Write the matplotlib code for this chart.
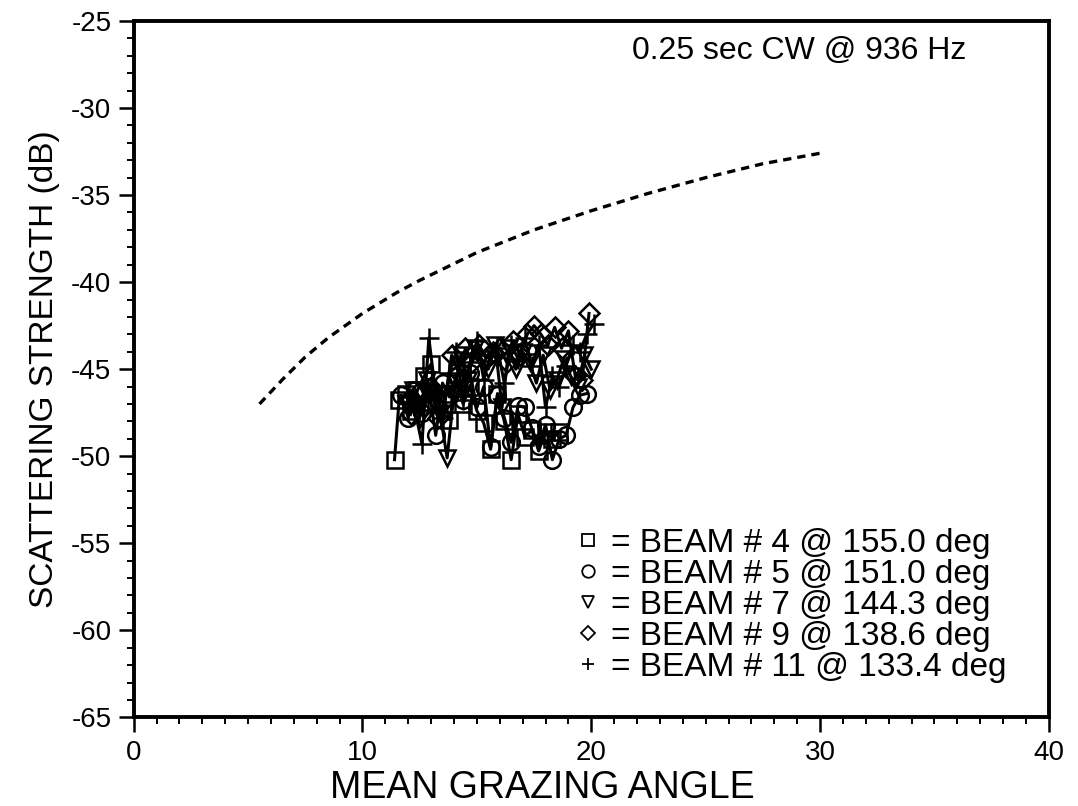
import matplotlib
matplotlib.use("Agg")
import matplotlib.pyplot as plt
from matplotlib.lines import Line2D
from matplotlib.ticker import MultipleLocator

plt.rcParams['font.family'] = ['Liberation Sans', 'DejaVu Sans']
plt.rcParams['axes.unicode_minus'] = False

# Model curve (dashed)
model_x = [5.5, 6.5, 7.5, 8.5, 10.0, 11.5, 12.5, 15.0, 17.5, 20.0, 22.5, 25.0, 27.5, 30.0]
model_y = [-47.0, -45.6, -44.3, -43.2, -41.8, -40.6, -39.9, -38.3, -37.0, -35.9, -34.9, -34.0, -33.2, -32.6]

# Beam 4 (squares)
b4_x = [11.4, 11.6, 11.9, 12.1, 12.4, 12.7, 13.0, 13.2, 13.5, 13.8, 14.1, 14.4, 14.7, 15.0,
        15.3, 15.6, 15.9, 16.2, 16.5, 16.8, 17.1, 17.4, 17.7, 18.0, 18.3, 18.6]
b4_y = [-50.2, -46.8, -46.4, -47.4, -46.2, -45.4, -44.7, -47.0, -46.4, -47.9, -45.8, -47.0,
        -46.0, -47.4, -48.1, -49.6, -46.4, -48.0, -50.2, -47.6, -48.9, -48.5, -49.7, -48.6,
        -49.0, -48.6]

# Beam 5 (circles)
b5_x = [11.7, 12.0, 12.3, 12.6, 12.9, 13.2, 13.5, 13.8, 14.1, 14.4, 14.7, 15.0, 15.3, 15.6,
        15.9, 16.2, 16.5, 16.8, 17.1, 17.4, 17.7, 18.0, 18.3, 18.6, 18.9, 19.2, 19.5, 19.8]
b5_y = [-46.5, -47.8, -46.2, -47.5, -46.0, -48.8, -45.8, -46.6, -45.4, -46.8, -45.2, -47.2,
        -46.0, -49.5, -46.5, -47.8, -49.2, -47.1, -47.2, -48.4, -49.4, -48.2, -50.2, -49.0,
        -48.8, -47.2, -46.5, -46.4]

# Beam 7 (triangles down)
b7_x = [11.9, 12.2, 12.5, 12.8, 13.1, 13.4, 13.7, 14.0, 14.3, 14.6, 14.9, 15.2, 15.5, 15.8,
        16.1, 16.4, 16.7, 17.0, 17.3, 17.6, 17.9, 18.2, 18.5, 18.8, 19.1, 19.4, 19.7, 20.0]
b7_y = [-47.0, -46.2, -47.8, -45.6, -46.8, -47.6, -50.1, -46.4, -44.2, -45.6, -43.8, -44.4,
        -45.0, -43.6, -47.2, -43.8, -45.0, -44.0, -44.6, -45.8, -44.2, -46.2, -45.6, -44.4,
        -45.4, -46.0, -44.2, -45.0]

# Beam 9 (diamonds)
b9_x = [12.1, 12.4, 12.7, 13.0, 13.3, 13.6, 13.9, 14.2, 14.5, 14.8, 15.1, 15.4, 15.7, 16.0,
        16.3, 16.6, 16.9, 17.2, 17.5, 17.8, 18.1, 18.4, 18.7, 19.0, 19.3, 19.6, 19.9]
b9_y = [-47.6, -46.4, -47.2, -46.0, -47.8, -46.8, -44.2, -45.2, -43.8, -44.6, -43.6, -44.4,
        -44.0, -43.8, -44.6, -43.4, -44.2, -43.0, -42.5, -43.0, -43.6, -42.6, -43.8, -42.8,
        -45.4, -45.6, -41.8]

# Beam 11 (plus)
b11_x = [12.0, 12.3, 12.6, 12.9, 13.2, 13.5, 13.8, 14.1, 14.4, 14.7, 15.0, 15.3, 15.6, 15.9,
         16.2, 16.5, 16.8, 17.1, 17.4, 17.7, 18.0, 18.3, 18.6, 18.9, 19.2, 19.5, 19.8, 20.1]
b11_y = [-46.6, -47.4, -49.3, -43.2, -46.4, -47.8, -45.2, -44.0, -46.8, -44.6, -43.4, -45.6,
         -44.2, -43.8, -45.8, -43.6, -44.4, -43.2, -44.8, -43.6, -47.2, -45.4, -46.0, -44.8,
         -43.6, -44.0, -43.0, -42.4]

legend_labels = ['= BEAM # 4 @ 155.0 deg', '= BEAM # 5 @ 151.0 deg', '= BEAM # 7 @ 144.3 deg',
                 '= BEAM # 9 @ 138.6 deg', '= BEAM # 11 @ 133.4 deg']
markers = ['s', 'o', 'v', 'D', '+']

fig = plt.figure(figsize=(10.78, 8.06), dpi=100)
ax = fig.add_axes([0.124, 0.110, 0.849, 0.864])

ax.plot(model_x, model_y, color='black', lw=2.4, ls=(0, (2.5, 1.8)))

series = [(b4_x, b4_y), (b5_x, b5_y), (b7_x, b7_y), (b9_x, b9_y), (b11_x, b11_y)]
sizes = [12, 12, 12, 10, 14]
for (sx, sy), m, s in zip(series, markers, sizes):
    ax.plot(sx, sy, color='black', lw=2.2, marker=m, ms=s, mfc='none', mec='black', mew=1.8)

ax.set_xlim(0, 40)
ax.set_ylim(-65, -25)
ax.xaxis.set_major_locator(MultipleLocator(10))
ax.xaxis.set_minor_locator(MultipleLocator(1))
ax.yaxis.set_major_locator(MultipleLocator(5))
ax.yaxis.set_minor_locator(MultipleLocator(1))
ax.tick_params(which='major', direction='out', length=11, width=1.8, labelsize=20, pad=5)
ax.tick_params(which='minor', direction='out', length=5, width=1.4)
for sp in ax.spines.values():
    sp.set_linewidth(2.8)

ax.set_xlabel('MEAN GRAZING ANGLE', fontsize=27)
ax.xaxis.set_label_coords(0.446, -0.075)
ax.set_ylabel('SCATTERING STRENGTH (dB)', fontsize=24, labelpad=8)

ax.text(21.8, -26.7, '0.25 sec CW @ 936 Hz', fontsize=23, ha='left', va='center')

legend_sizes = [9, 9, 9, 7, 9]
handles = [Line2D([], [], ls='none', marker=m, ms=s, mfc='none', mec='black', mew=1.3)
           for m, s in zip(markers, legend_sizes)]
ax.legend(handles, legend_labels, loc='upper left', bbox_to_anchor=(0.533, 0.345),
          bbox_transform=fig.transFigure, frameon=False, fontsize=24,
          labelspacing=0.0, handlelength=0.8, handletextpad=0.3, borderpad=0,
          borderaxespad=0)

fig.savefig('out.png', dpi=100)
